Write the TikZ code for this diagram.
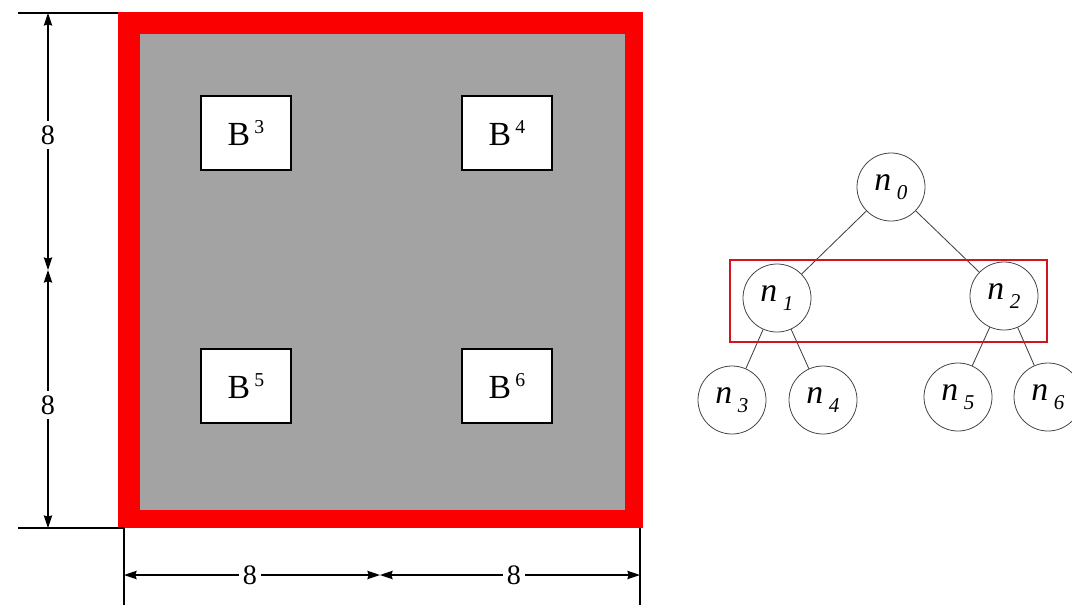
\documentclass[tikz,border=0pt]{standalone}
\usepackage{fontspec}
\setmainfont{Liberation Serif}
\usepackage{tikz}
\usetikzlibrary{arrows.meta, positioning}
\definecolor{platered}{RGB}{250, 0, 0}
\definecolor{plategray}{RGB}{163, 163, 163}
\definecolor{boxred}{RGB}{210, 20, 30}
\newcommand{\nlab}[1]{{\fontsize{24}{24}\selectfont\textit{n}\hspace{4pt}\raisebox{-0.6ex}{\fontsize{15}{15}\selectfont\textit{#1}}}}
\newcommand{\blab}[1]{{\fontsize{24}{24}\selectfont B\hspace{3pt}\raisebox{0.75ex}{\fontsize{14}{14}\selectfont #1}}}
\tikzset{
    dimline/.style={line width=0.9pt, {Stealth[length=9pt,width=6pt,inset=1pt]}-{Stealth[length=9pt,width=6pt,inset=1pt]}},
    extline/.style={line width=0.9pt},
    dimlabel/.style={fill=white, inner sep=3pt, font=\fontsize{20}{20}\selectfont},
    blockbox/.style={draw=black, line width=1pt, fill=white,
                     minimum width=2.25cm, minimum height=1.85cm},
    treenode/.style={circle, draw=black!75, line width=0.55pt,
                     minimum size=1.7cm, inner sep=0pt},
    treeedge/.style={black!75, line width=0.6pt}
}
\begin{document}
\begin{tikzpicture}[x=0.025cm, y=-0.025cm]
    \useasboundingbox (0,0) rectangle (1072,607);
    % Plate with red frame
    \fill[platered] (118,12) rectangle (643,528);
    \fill[plategray] (140,34) rectangle (625,510);
    % Blocks
    \node[blockbox] (b3) at (246,133) {\blab{3}};
    \node[blockbox] (b4) at (507,133) {\blab{4}};
    \node[blockbox] (b5) at (246,386) {\blab{5}};
    \node[blockbox] (b6) at (507,386) {\blab{6}};
    % Extension lines
    \coordinate (vt) at (48,13);
    \coordinate (vm) at (48,270);
    \coordinate (vb) at (48,528);
    \coordinate (hl) at (124,575);
    \coordinate (hm) at (380,575);
    \coordinate (hr) at (640,575);
    \draw[extline] (18,13) -- (118,13);
    \draw[extline] (18,528) -- (124,528);
    \draw[extline] (124,528) -- (124,605);
    \draw[extline] (640,528) -- (640,605);
    % Vertical dimensions
    \draw[dimline] (vt) -- (vm);
    \draw[dimline] (vm) -- (vb);
    \node[dimlabel] (dv1) at (48,135) {8};
    \node[dimlabel] (dv2) at (48,405) {8};
    % Horizontal dimensions
    \draw[dimline] (hl) -- (hm);
    \draw[dimline] (hm) -- (hr);
    \node[dimlabel] (dh1) at (250,575) {8};
    \node[dimlabel] (dh2) at (514,575) {8};
    % Tree
    \node[treenode] (n0) at (891,187) {\nlab{0}};
    \node[treenode] (n1) at (777,298) {\nlab{1}};
    \node[treenode] (n2) at (1004,296) {\nlab{2}};
    \node[treenode] (n3) at (732,400) {\nlab{3}};
    \node[treenode] (n4) at (823,400) {\nlab{4}};
    \node[treenode] (n5) at (958,397) {\nlab{5}};
    \node[treenode] (n6) at (1048,397) {\nlab{6}};
    \draw[treeedge] (n0) -- (n1);
    \draw[treeedge] (n0) -- (n2);
    \draw[treeedge] (n1) -- (n3);
    \draw[treeedge] (n1) -- (n4);
    \draw[treeedge] (n2) -- (n5);
    \draw[treeedge] (n2) -- (n6);
    % Selected level
    \draw[boxred, line width=1.8pt] (730,260) rectangle (1047,342);
\end{tikzpicture}
\end{document}
